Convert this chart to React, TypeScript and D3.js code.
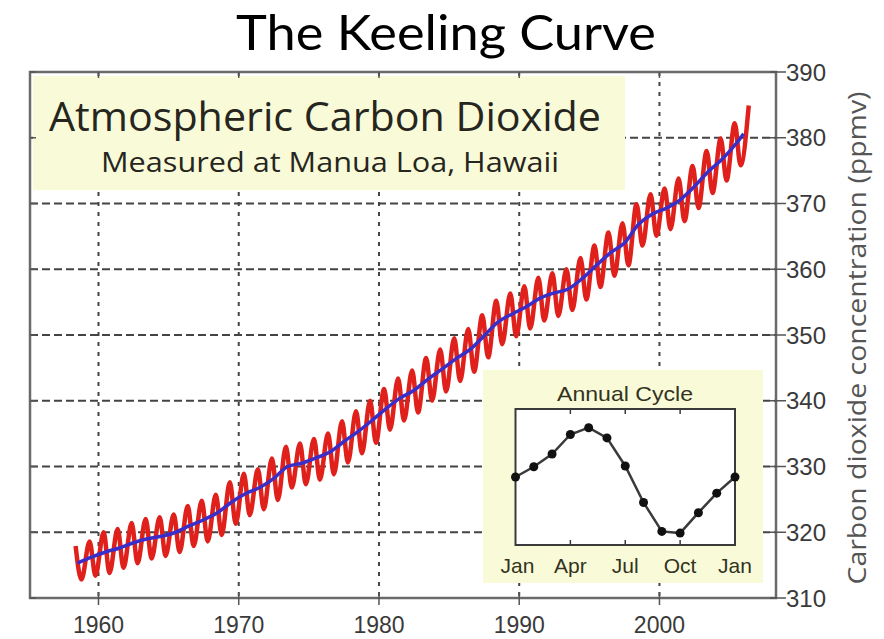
import React from 'react';
import * as d3 from 'd3';

const W = 884;
const H = 639;

// Mauna Loa record, one entry per calendar year
const years = d3.range(1958, 2007);
// Smoothed annual trend (ppmv)
const trend = [
  315.3, 316.2, 317.0, 317.6, 318.4, 319.0, 319.4, 320.0, 321.0, 321.9,
  323.0, 324.6, 325.9, 326.8, 328.2, 330.0, 330.5, 331.3, 332.2, 333.8,
  335.3, 337.0, 338.8, 340.4, 341.6, 343.3, 344.8, 346.4, 347.8, 349.9,
  352.0, 353.2, 354.3, 355.6, 356.4, 357.0, 358.6, 360.6, 362.5, 364.0,
  366.8, 368.4, 369.3, 370.6, 372.6, 374.9, 376.8, 379.2, 380.6,
];
// Spring maximum of each year (ppmv)
const springPeak = [
  317.9, 318.6, 320.0, 320.5, 321.4, 322.0, 322.3, 322.7, 324.0, 324.8,
  325.7, 327.6, 328.9, 329.6, 331.2, 333.0, 333.5, 334.2, 335.0, 336.9,
  338.4, 340.0, 341.8, 343.4, 344.6, 346.5, 347.8, 349.5, 350.9, 353.0,
  355.2, 356.3, 357.4, 358.7, 359.4, 360.0, 361.7, 363.6, 365.6, 367.0,
  369.9, 371.4, 372.3, 373.8, 375.7, 378.0, 379.9, 382.2, 384.9,
];
// Autumn minimum of each year (ppmv)
const autumnTrough = [
  312.8, 313.4, 313.8, 314.6, 315.3, 316.0, 316.4, 317.0, 317.9, 318.6,
  319.6, 321.3, 322.6, 323.5, 324.9, 326.8, 327.3, 328.0, 328.8, 330.6,
  332.0, 333.6, 335.6, 337.0, 338.2, 340.0, 341.4, 343.0, 344.4, 346.6,
  348.6, 349.8, 351.0, 352.2, 352.9, 353.8, 355.4, 357.3, 359.0, 360.6,
  363.6, 365.1, 366.1, 367.3, 369.3, 371.6, 373.5, 375.8,
];

const yearTicks = [1960, 1970, 1980, 1990, 2000];
const ppmTicks = [310, 320, 330, 340, 350, 360, 370, 380, 390];
const ppmGrid = [320, 330, 340, 350, 360, 370, 380];

// Mean seasonal cycle (ppmv departure), Jan .. following Jan
const cycle = [0, 0.6, 1.35, 2.5, 2.9, 2.3, 0.65, -1.5, -3.2, -3.3, -2.1, -0.95, 0];
const monthLabels = ['Jan', 'Apr', 'Jul', 'Oct', 'Jan'];
const monthLabelPos = [0, 3, 6, 9, 12];

const SANS = "'Liberation Sans', Arial, sans-serif";
const HUMAN = "'Open Sans', 'Noto Sans', sans-serif";
const PALE = '#f9fbd8';

const PEAK_OFFSET = 4.4 / 12;
const TROUGH_OFFSET = 9.4 / 12;

export default function App() {
  const left = 30, right = 776, top = 72, bottom = 598;
  const x = d3.scaleLinear().domain([1955.116, 2008.31]).range([left, right]);
  const y = d3.scaleLinear().domain([310, 390]).range([bottom, top]);

  // Monthly record: alternating spring peaks and autumn troughs
  const monthly: [number, number][] = [];
  years.forEach((yr, i) => {
    monthly.push([yr + PEAK_OFFSET, springPeak[i]]);
    if (i < autumnTrough.length) monthly.push([yr + TROUGH_OFFSET, autumnTrough[i]]);
  });
  const trendPts: [number, number][] = years.map((yr, i) => [
    i === years.length - 1 ? yr : yr + 0.5,
    trend[i],
  ]);

  const line = d3
    .line<[number, number]>()
    .x((d) => x(d[0]))
    .y((d) => y(d[1]))
    .curve(d3.curveMonotoneX);

  // Inset
  const ix = d3.scaleLinear().domain([0, 12]).range([515.5, 735]);
  const iy = d3.scaleLinear().domain([-4, 4]).range([545, 409]);
  const insetLine = d3
    .line<number>()
    .x((_, i) => ix(i))
    .y((d) => iy(d));

  return (
    <svg
      width={W}
      height={H}
      viewBox={`0 0 ${W} ${H}`}
      style={{ position: 'absolute', left: 0, top: 0, background: '#fff' }}
    >
      <rect x={0} y={0} width={W} height={H} fill="#fff" />

      <text
        x={446}
        y={50}
        textAnchor="middle"
        fontFamily="Lato, 'Open Sans', sans-serif"
        fontSize={49}
        fill="#000"
        textLength={420}
        lengthAdjust="spacingAndGlyphs"
      >
        The Keeling Curve
      </text>

      {/* grid */}
      <g stroke="#444" strokeWidth={2}>
        {yearTicks.map((t) => (
          <line key={`vg${t}`} x1={x(t)} x2={x(t)} y1={top} y2={bottom} strokeDasharray="4,6" />
        ))}
        {ppmGrid.map((t) => (
          <line key={`hg${t}`} x1={left} x2={right} y1={y(t)} y2={y(t)} strokeDasharray="8,4" />
        ))}
      </g>

      {/* heading box */}
      <rect x={33} y={76} width={592} height={114} fill={PALE} />
      <text
        x={325}
        y={131}
        textAnchor="middle"
        fontFamily={HUMAN}
        fontSize={41}
        fill="#26261e"
        textLength={552}
        lengthAdjust="spacingAndGlyphs"
      >
        Atmospheric Carbon Dioxide
      </text>
      <text
        x={330}
        y={172}
        textAnchor="middle"
        fontFamily={HUMAN}
        fontSize={27.5}
        fill="#26261e"
        textLength={458}
        lengthAdjust="spacingAndGlyphs"
      >
        Measured at Manua Loa, Hawaii
      </text>

      {/* inset box */}
      <rect x={483} y={370} width={280} height={213} fill={PALE} />
      <rect x={515.5} y={409} width={219.5} height={136} fill="#fff" stroke="#3a3a3a" strokeWidth={2} />
      <g stroke="#3a3a3a" strokeWidth={1.5}>
        {[3, 6, 9].map((m) => (
          <g key={`it${m}`}>
            <line x1={ix(m)} x2={ix(m)} y1={409} y2={414} />
            <line x1={ix(m)} x2={ix(m)} y1={545} y2={540} />
          </g>
        ))}
      </g>
      <path d={insetLine(cycle) || ''} fill="none" stroke="#3a3a3a" strokeWidth={2.5} />
      {cycle.map((v, i) => (
        <circle key={`ip${i}`} cx={ix(i)} cy={iy(v)} r={4.5} fill="#111" />
      ))}
      <text
        x={625}
        y={401}
        textAnchor="middle"
        fontFamily={SANS}
        fontSize={21}
        fill="#33331f"
        textLength={136}
        lengthAdjust="spacingAndGlyphs"
      >
        Annual Cycle
      </text>
      {monthLabels.map((m, i) => (
        <text
          key={`ml${i}`}
          x={ix(monthLabelPos[i]) + (i === 0 ? 2 : 0)}
          y={573}
          textAnchor="middle"
          fontFamily={SANS}
          fontSize={21}
          fill="#33331f"
        >
          {m}
        </text>
      ))}

      {/* data */}
      <path d={line(monthly) || ''} fill="none" stroke="#e0201b" strokeWidth={4.5} strokeLinejoin="round" />
      <path d={line(trendPts) || ''} fill="none" stroke="#3a2ec8" strokeWidth={3.5} strokeLinejoin="round" />

      {/* frame and ticks */}
      <rect x={left} y={top} width={right - left} height={bottom - top} fill="none" stroke="#6a6a6a" strokeWidth={2.5} />
      <g stroke="#555" strokeWidth={1.5}>
        {yearTicks.map((t) => (
          <g key={`xt${t}`}>
            <line x1={x(t)} x2={x(t)} y1={bottom - 6} y2={bottom + 7} />
            <line x1={x(t)} x2={x(t)} y1={top} y2={top + 6} />
          </g>
        ))}
        {ppmTicks.map((t) => (
          <g key={`yt${t}`}>
            <line x1={right - 6} x2={right + 10} y1={y(t)} y2={y(t)} />
            <line x1={left} x2={left + 6} y1={y(t)} y2={y(t)} />
          </g>
        ))}
      </g>

      {yearTicks.map((t) => (
        <text
          key={`xl${t}`}
          x={x(t)}
          y={633}
          textAnchor="middle"
          fontFamily={SANS}
          fontSize={23}
          fill="#3a3a3a"
        >
          {t}
        </text>
      ))}
      {ppmTicks.map((t) => (
        <text
          key={`yl${t}`}
          x={786}
          y={y(t)}
          dy="0.36em"
          fontFamily={SANS}
          fontSize={24}
          fill="#3a3a3a"
        >
          {t}
        </text>
      ))}

      <text
        transform="translate(866,338) rotate(-90)"
        textAnchor="middle"
        fontFamily={HUMAN}
        fontSize={26}
        fill="#555"
        textLength={493}
        lengthAdjust="spacingAndGlyphs"
      >
        Carbon dioxide concentration (ppmv)
      </text>
    </svg>
  );
}
